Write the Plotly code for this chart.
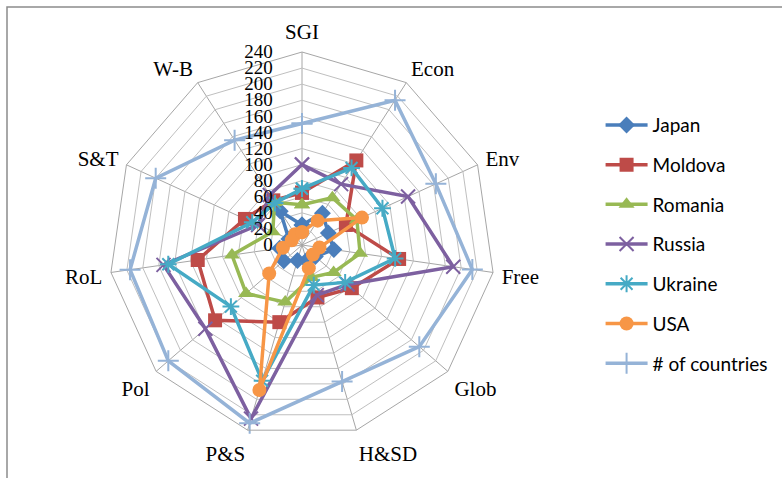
import plotly.graph_objects as go

# Index categories, clockwise from the top
categories = ["SGI", "Econ", "Env", "Free", "Glob", "H&SD", "P&S", "Pol", "RoL", "S&T", "W-B"]

japan = [25, 47, 36, 40, 22, 20, 20, 30, 28, 18, 50]
moldova = [65, 125, 60, 122, 82, 68, 100, 143, 131, 78, 66]
romania = [50, 70, 75, 73, 52, 42, 74, 92, 88, 40, 63]
russia = [100, 90, 145, 190, 75, 65, 225, 159, 174, 60, 74]
ukraine = [70, 114, 110, 117, 71, 52, 176, 117, 168, 68, 62]
usa = [16, 36, 82, 22, 18, 30, 188, 54, 24, 14, 16]
n_countries = [151, 214, 183, 214, 193, 177, 231, 220, 216, 200, 155]

radial_ticks = list(range(0, 241, 20))

series = [
    ("Japan", japan, "#4A7EBB", "diamond", 13, 0),
    ("Moldova", moldova, "#BE4B48", "square", 14, 0),
    ("Romania", romania, "#98B954", "triangle-up", 14, 0),
    ("Russia", russia, "#7D60A0", "x-thin-open", 14, 2),
    ("Ukraine", ukraine, "#46AAC5", "asterisk-open", 14, 2),
    ("USA", usa, "#F79646", "circle", 14, 0),
    ("# of countries", n_countries, "#95B3D7", "cross-thin-open", 15, 2),
]

fig = go.Figure()
for i, (name, vals, color, symbol, size, lw) in enumerate(series):
    fig.add_trace(go.Scatterpolar(
        r=vals + vals[:1],
        theta=categories + categories[:1],
        name=name,
        mode="lines+markers",
        line=dict(color=color, width=3.5),
        marker=dict(symbol=symbol, size=size, color=color,
                    line=dict(color=color, width=lw)),
        legendgroup=f"g{i}",
    ))

W, H = 782, 478
cx, cy, R = 302, 245, 193

fig.update_layout(
    width=W, height=H,
    margin=dict(l=0, r=0, t=0, b=0),
    paper_bgcolor="white",
    plot_bgcolor="white",
    showlegend=True,
    polar=dict(
        domain=dict(x=[(cx - R) / W, (cx + R) / W],
                    y=[(H - cy - R) / H, (H - cy + R) / H]),
        gridshape="linear",
        bgcolor="white",
        angularaxis=dict(
            rotation=90, direction="clockwise",
            showline=True, linecolor="#A6A6A6", linewidth=1,
            gridcolor="#A6A6A6", gridwidth=1,
            ticks="outside", ticklen=4, tickcolor="rgba(0,0,0,0)",
            tickfont=dict(family="Liberation Serif", size=21, color="black"),
        ),
        radialaxis=dict(
            range=[0, 240], tickvals=radial_ticks,
            angle=90, tickangle=90, side="counterclockwise",
            showline=False, ticks="outside", ticklen=22,
            tickcolor="rgba(0,0,0,0)",
            gridcolor="#BFBFBF", gridwidth=1,
            tickfont=dict(family="Liberation Serif", size=19, color="black"),
        ),
    ),
    legend=dict(
        x=0.768, y=0.778, xanchor="left", yanchor="top",
        font=dict(family="Lato", size=19, color="black"),
        tracegroupgap=12,
        itemwidth=42,
        bgcolor="rgba(0,0,0,0)",
    ),
    shapes=[dict(type="rect", xref="paper", yref="paper",
                 x0=7 / W, x1=1.05, y0=-0.05, y1=1 - 7 / H,
                 line=dict(color="#8C8C8C", width=1.5))],
)

fig.write_html("out.html")
